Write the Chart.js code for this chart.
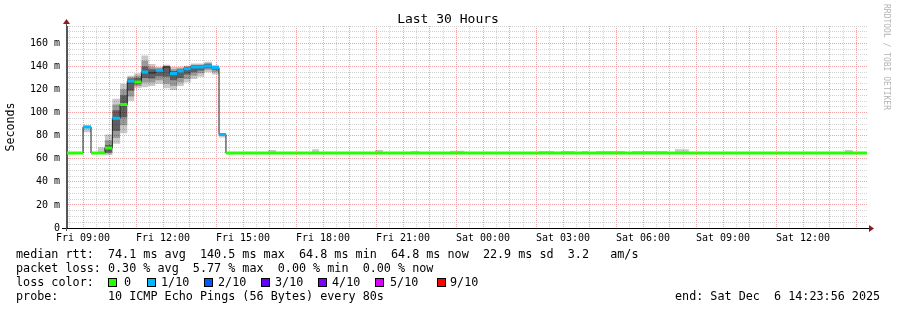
<!DOCTYPE html>
<html>
<head>
<meta charset="utf-8">
<style>
  body { margin: 0; background: #fff; }
  #wrap { position: relative; width: 897px; height: 310px; font-family: "DejaVu Sans Mono", monospace; color: #000; }
  #wrap canvas { position: absolute; left: 0; top: 0; }
  .t { position: absolute; white-space: pre; font-size: 11.75px; line-height: 14px; }
  .box { position: absolute; top: 278px; width: 7px; height: 7px; border: 1px solid #000; }
  #title { position: absolute; left: 0; top: 11px; width: 896px; text-align: center; font-size: 13px; line-height: 16px; }
  #mark { position: absolute; left: 882px; top: 4px; writing-mode: vertical-rl; font-size: 8px; color: #b4b4b4; }
</style>
</head>
<body>
<div id="wrap">
  <canvas id="myChart" width="897" height="310"></canvas>
  <div id="title">Last 30 Hours</div>
  <div id="mark">RRDTOOL / TOBI OETIKER</div>
  <div class="t" style="left:16px;top:247px">median rtt:  74.1 ms avg  140.5 ms max  64.8 ms min  64.8 ms now  22.9 ms sd  3.2   am/s</div>
  <div class="t" style="left:16px;top:261px">packet loss: 0.30 % avg  5.77 % max  0.00 % min  0.00 % now</div>
  <div class="t" style="left:16px;top:275px">loss color:</div>
  <div id="lossLegend"></div>
  <div class="t" style="left:16px;top:289px">probe:       10 ICMP Echo Pings (56 Bytes) every 80s</div>
  <div class="t" style="left:675px;top:289px">end: Sat Dec  6 14:23:56 2025</div>
</div>
<script src="https://cdn.jsdelivr.net/npm/chart.js"></script>
<script>

// time in hours since Fri 00:00; graph runs Fri 08:23:56 .. Sat 14:23:56
const startHour = 8.399;
const endHour = 38.399;

// start of each consolidated step, last entry = end of graph
const segStart = [8.40, 9.00, 9.30, 9.56, 9.82, 10.10, 10.39, 10.66, 10.92, 11.19, 11.45, 11.71, 12.00, 12.26,
  12.53, 12.78, 13.04, 13.29, 13.55, 13.83, 14.10, 14.36, 15.94, 16.24, 17.59, 17.85, 19.95, 20.25, 21.30,
  21.60, 22.77, 23.30, 26.10, 26.66, 26.92, 27.45, 27.71, 27.94, 28.24, 29.32, 29.59, 30.90, 31.20, 31.72,
  37.57, 37.87, 38.40];

// median rtt (ms) per step
const median = [65, 87.6, 65, 65, 69.2, 95.1, 107, 127.4, 126.5, 135.2, 134.3, 136.6, 139.5, 133.8, 136, 138,
  139.5, 139.5, 140.4, 139, 81, 65, 65, 65, 65, 65, 65, 65, 65, 65, 65, 65, 65, 65, 65, 65, 65, 65, 65, 65,
  65, 65, 65, 65, 65, 65];

// lost pings out of 10 per step (null = no colour bar)
const lossLevel = [0, 1, 0, 0, 0, 1, 0, 1, 0, 1, null, 1, null, 1, 1, 1, 1, 1, 1, 1, 1, 0, 0, 0, 0, 0, 0, 0,
  0, 0, 0, 0, 0, 0, 0, 0, 0, 0, 0, 0, 0, 0, 0, 0, 0, 0];

// smoke bands (ms): outer, middle, inner
const outerLo = [65, 83, 65, 64.5, 63, 73, 82, 110, 121, 122, 123, 125, 121, 119.5, 123, 126, 129, 131, 135, 133,
  78.5, 65, 64.5, 65, 64.5, 65, 64.5, 65, 64.5, 65, 64.5, 65, 64.5, 65, 64.5, 65, 64.5, 65, 64.5, 65, 64.5, 65,
  64.5, 65, 64.5, 65];
const outerHi = [65, 89, 65, 70, 81, 112, 125, 132, 134, 149.5, 142, 139.5, 141.5, 139.5, 139.5, 140.5, 142.5,
  142.5, 144, 141, 82, 65, 67.5, 65, 68.3, 65, 67.5, 65, 66.6, 65, 67, 65, 66.6, 65, 66.6, 65, 66.6, 65, 66.6,
  65, 66.6, 65, 68.3, 65, 67.5, 65];
const midLo = [65, 87.6, 65, 65, 64.5, 78, 89, 114, 123, 126, 126, 128, 125, 123, 126, 129, 132, 134, 137, 135,
  81, 65, 65, 65, 65, 65, 65, 65, 65, 65, 65, 65, 65, 65, 65, 65, 65, 65, 65, 65, 65, 65, 65, 65, 65, 65];
const midHi = [65, 87.6, 65, 65, 76, 107, 120, 130.5, 132, 145, 139.5, 138.5, 140.5, 137.5, 138.5, 140, 141.5,
  141.5, 143, 140.5, 81, 65, 65, 65, 65, 65, 65, 65, 65, 65, 65, 65, 65, 65, 65, 65, 65, 65, 65, 65, 65, 65, 65,
  65, 65, 65];
const innerLo = [65, 87.6, 65, 65, 65.5, 84, 96, 119, 124.5, 130, 129.5, 131.5, 131, 128, 130, 133, 135, 136.5,
  138.5, 137, 81, 65, 65, 65, 65, 65, 65, 65, 65, 65, 65, 65, 65, 65, 65, 65, 65, 65, 65, 65, 65, 65, 65, 65,
  65, 65];
const innerHi = [65, 87.6, 65, 65, 72, 102, 115, 129.5, 130, 140, 137.5, 138, 140, 136, 137.5, 139.5, 141, 141,
  142, 140, 81, 65, 65, 65, 65, 65, 65, 65, 65, 65, 65, 65, 65, 65, 65, 65, 65, 65, 65, 65, 65, 65, 65, 65,
  65, 65];

// axis labels
const xLabelHours = [9, 12, 15, 18, 21, 24, 27, 30, 33, 36];
const xLabels = ['Fri 09:00', 'Fri 12:00', 'Fri 15:00', 'Fri 18:00', 'Fri 21:00', 'Sat 00:00', 'Sat 03:00',
  'Sat 06:00', 'Sat 09:00', 'Sat 12:00'];
const yLabels = ['0', '20 m', '40 m', '60 m', '80 m', '100 m', '120 m', '140 m', '160 m'];

// loss colour legend
const lossNames = ['0', '1/10', '2/10', '3/10', '4/10', '5/10', '9/10'];
const lossColors = ['#26ff00', '#00b8ff', '#0059ff', '#5e00ff', '#7e00ff', '#dd00ff', '#ff0000'];
const lossBoxX = [108, 147, 204, 261, 318, 375, 437];
const lossTextX = [124, 161, 218, 275, 332, 390, 450];

const legend = document.getElementById('lossLegend');
lossNames.forEach(function(name, i) {
  legend.insertAdjacentHTML('beforeend',
    '<div class="box" style="left:' + lossBoxX[i] + 'px;background:' + lossColors[i] + '"></div>' +
    '<div class="t" style="left:' + lossTextX[i] + 'px;top:275px">' + name + '</div>');
});

function steps(values) {
  return segStart.map(function(x, i) {
    return { x: x, y: values[Math.min(i, values.length - 1)] };
  });
}

// horizontal colour bar for each step with the given loss, joined when neighbours match
function lossBars(level) {
  const pts = [];
  for (let i = 0; i < median.length; i++) {
    if (lossLevel[i] !== level) continue;
    if (i > 0 && lossLevel[i - 1] === level && median[i - 1] === median[i] && pts.length) {
      pts.pop();
      pts[pts.length - 1] = { x: segStart[i + 1], y: median[i] };
      pts.push({ x: segStart[i + 1], y: null });
      continue;
    }
    pts.push({ x: segStart[i], y: median[i] }, { x: segStart[i + 1], y: median[i] }, { x: segStart[i + 1], y: null });
  }
  return pts;
}

const gridHours = [];
for (let h = 8.5; h <= 38; h += 0.5) gridHours.push(h);

const majorGrid = '#f2a2a2';
const minorGrid = '#d2d2d2';
const mono = 'DejaVu Sans Mono';

const band = function(data, fill, color, order) {
  return {
    data: data, stepped: 'before', borderWidth: 0, pointRadius: 0,
    fill: fill, backgroundColor: color, order: order
  };
};

const datasets = [
  { data: lossBars(0), borderColor: lossColors[0], borderWidth: 3, borderCapStyle: 'butt', pointRadius: 0, spanGaps: false, order: 0 },
  { data: lossBars(1), borderColor: lossColors[1], borderWidth: 3, borderCapStyle: 'butt', pointRadius: 0, spanGaps: false, order: 0 },
  { data: steps(median), stepped: 'before', borderColor: '#202020', borderWidth: 1, pointRadius: 0, order: 1 },
  band(steps(innerHi), '+1', 'rgba(0,0,0,0.38)', 2),
  band(steps(innerLo), false, 'transparent', 2),
  band(steps(midHi), '+1', 'rgba(0,0,0,0.24)', 3),
  band(steps(midLo), false, 'transparent', 3),
  band(steps(outerHi), '+1', 'rgba(0,0,0,0.21)', 4),
  band(steps(outerLo), false, 'transparent', 4)
];

const axisArrows = {
  id: 'axisArrows',
  afterDraw(chart) {
    const ctx = chart.ctx, a = chart.chartArea;
    ctx.save();
    ctx.strokeStyle = '#000';
    ctx.lineWidth = 1;
    ctx.beginPath();
    ctx.moveTo(a.left - 5, a.bottom + 0.5);
    ctx.lineTo(a.right + 3, a.bottom + 0.5);
    ctx.stroke();
    ctx.strokeStyle = '#555';
    ctx.beginPath();
    ctx.moveTo(a.left - 0.5, a.bottom + 3);
    ctx.lineTo(a.left - 0.5, a.top - 3);
    ctx.stroke();
    ctx.fillStyle = '#8b1c1c';
    ctx.beginPath();
    ctx.moveTo(a.left - 4, a.top - 2);
    ctx.lineTo(a.left + 3, a.top - 2);
    ctx.lineTo(a.left - 0.5, a.top - 7);
    ctx.closePath();
    ctx.fill();
    ctx.beginPath();
    ctx.moveTo(a.right + 2, a.bottom - 3);
    ctx.lineTo(a.right + 2, a.bottom + 4);
    ctx.lineTo(a.right + 7, a.bottom + 0.5);
    ctx.closePath();
    ctx.fill();
    ctx.restore();
  }
};

const config = {
  type: 'line',
  data: { datasets: datasets },
  options: {
    responsive: false,
    animation: false,
    events: [],
    layout: { padding: { left: 0, right: 30, top: 26, bottom: 0 } },
    plugins: { legend: { display: false }, tooltip: { enabled: false }, title: { display: false } },
    scales: {
      x: {
        type: 'linear',
        min: startHour,
        max: endHour,
        afterBuildTicks: function(s) { s.ticks = gridHours.map(function(v) { return { value: v }; }); },
        afterFit: function(s) { s.height = 82; },
        grid: {
          drawTicks: false,
          lineWidth: 1,
          color: function(ctx) {
            if (!ctx.tick) return minorGrid;
            return Number.isInteger(ctx.tick.value) ? majorGrid : minorGrid;
          }
        },
        border: { display: true, color: '#000', width: 1, dash: [1, 1] },
        ticks: {
          autoSkip: false, maxRotation: 0, padding: 4, color: '#000',
          font: { family: mono, size: 10 },
          callback: function(v) {
            const i = xLabelHours.indexOf(v);
            return i < 0 ? '' : xLabels[i];
          }
        }
      },
      y: {
        min: 0,
        max: 175,
        afterFit: function(s) { s.width = 67; },
        grid: {
          drawTicks: false,
          lineWidth: 1,
          color: function(ctx) {
            if (!ctx.tick || ctx.tick.value === 0) return 'transparent';
            return ctx.tick.value % 20 === 0 ? majorGrid : minorGrid;
          }
        },
        border: { display: true, color: '#555', width: 1, dash: [1, 1] },
        ticks: {
          stepSize: 5, autoSkip: false, padding: 7, color: '#000',
          font: { family: mono, size: 10 },
          callback: function(v) { return v % 20 === 0 ? yLabels[v / 20] : ''; }
        },
        title: { display: true, text: 'Seconds', color: '#000', padding: 4, font: { family: mono, size: 11.6 } }
      }
    }
  },
  plugins: [axisArrows]
};

var chart = new Chart('myChart', config);

</script>
</body>
</html>
